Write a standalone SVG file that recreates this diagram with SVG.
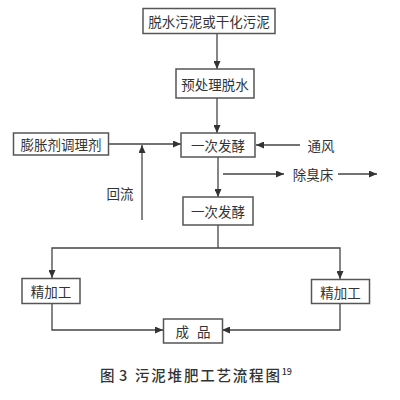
<svg xmlns="http://www.w3.org/2000/svg" width="400" height="400" viewBox="0 0 400 400">
<style>
.box{fill:#fff;stroke:#555;stroke-width:1.5}
.lbl{font-family:"Noto Sans CJK SC","Noto Sans CJK JP",sans-serif;font-size:13.5px;fill:#333;text-anchor:middle;dominant-baseline:central}
.ln{fill:none;stroke:#444;stroke-width:1.3}
.cap{font-family:"Noto Sans CJK SC",sans-serif;font-size:14.5px;font-weight:500;fill:#333}
</style>
<defs>
<marker id="ah" markerUnits="userSpaceOnUse" markerWidth="9" markerHeight="7" refX="8" refY="3.5" orient="auto">
<path d="M0,0 L8,3.5 L0,7 Z" fill="#333"/>
</marker>
</defs>
<rect width="400" height="400" fill="#fff"/>
<g id="connectors">
<path class="ln" d="M217,33 V69" marker-end="url(#ah)"/>
<path class="ln" d="M217,98 V133" marker-end="url(#ah)"/>
<path class="ln" d="M108,144 H181" marker-end="url(#ah)"/>
<path class="ln" d="M142,220 V145" marker-end="url(#ah)"/>
<path class="ln" d="M300,145 H256" marker-end="url(#ah)"/>
<path class="ln" d="M223,174 H284" marker-end="url(#ah)"/>
<path class="ln" d="M338,174 H377" marker-end="url(#ah)"/>
<path class="ln" d="M218,157 V197" marker-end="url(#ah)"/>
<path class="ln" d="M218,225 V248"/>
<path class="ln" d="M218,248 H52 V278" marker-end="url(#ah)"/>
<path class="ln" d="M218,248 H340 V279" marker-end="url(#ah)"/>
<path class="ln" d="M52,303 V330 H163" marker-end="url(#ah)"/>
<path class="ln" d="M340,303 V330 H222" marker-end="url(#ah)"/>
</g>
<g id="n1"><rect class="box" x="143" y="8.5" width="132" height="25"/><text class="lbl" x="209" y="21">脱水污泥或干化污泥</text></g>
<g id="n2"><rect class="box" x="176" y="69" width="78" height="29"/><text class="lbl" x="215" y="83.5">预处理脱水</text></g>
<g id="n3"><rect class="box" x="181" y="133" width="74" height="24"/><text class="lbl" x="218" y="145">一次发酵</text></g>
<g id="n4"><rect class="box" x="13.5" y="133" width="95" height="22"/><text class="lbl" x="61" y="144">膨胀剂调理剂</text></g>
<g id="n5"><text class="lbl" x="120" y="193">回流</text></g>
<g id="n6"><text class="lbl" x="321" y="145">通风</text></g>
<g id="n7"><text class="lbl" x="313" y="174">除臭床</text></g>
<g id="n8"><rect class="box" x="183" y="197" width="70" height="28"/><text class="lbl" x="218" y="211">一次发酵</text></g>
<g id="n9"><rect class="box" x="22" y="278.5" width="58" height="25"/><text class="lbl" x="51" y="291">精加工</text></g>
<g id="n10"><rect class="box" x="311.5" y="279.5" width="58" height="24"/><text class="lbl" x="340.5" y="291.5">精加工</text></g>
<g id="n11"><rect class="box" x="163.5" y="319" width="59" height="24"/><text class="lbl" x="193" y="331" word-spacing="5">成 品</text></g>
<text class="cap" x="100" y="381">图 <tspan x="119">3</tspan><tspan x="135" letter-spacing="1.8">污泥堆肥工艺流程图</tspan><tspan font-size="9" dy="-6">19</tspan></text>
</svg>
